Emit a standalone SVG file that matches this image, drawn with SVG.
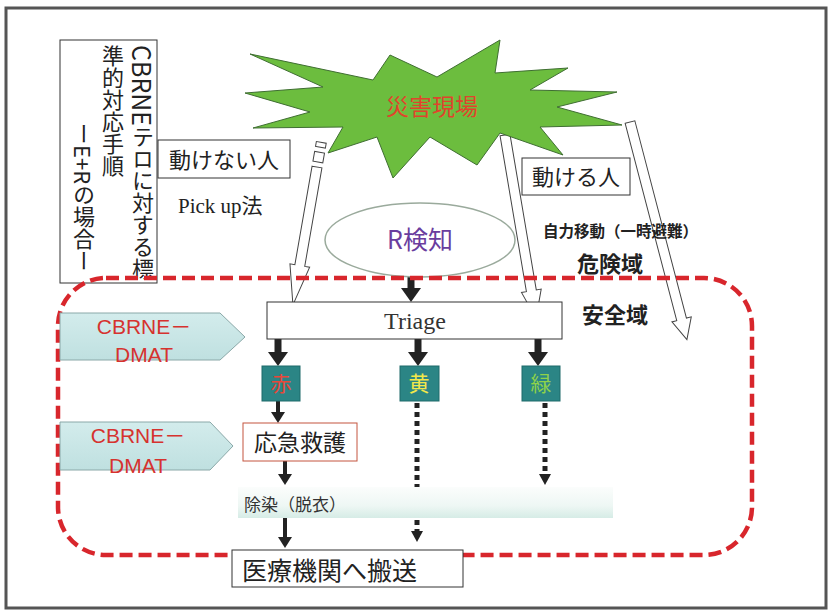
<svg xmlns="http://www.w3.org/2000/svg" width="831" height="610" viewBox="0 0 831 610">
<defs>
<style>
.jp{font-family:"Noto Sans CJK JP","Noto Sans",sans-serif;}
.ser{font-family:"Liberation Serif","Noto Sans CJK JP",serif;}
.box{fill:#fff;stroke:#333;stroke-width:1;}
.hollow{fill:#fff;stroke:#444;stroke-width:1;}
.tag{fill:#2b8585;stroke:#1f6a6a;stroke-width:1;}
.thick{stroke:#222;stroke-width:7;fill:none;}
.thin{stroke:#222;stroke-width:4;fill:none;}
.dot{stroke:#222;stroke-width:5;stroke-dasharray:5 4;fill:none;}
.dmat{fill:url(#dmatg);stroke:#8aa8a8;stroke-width:1;}
.dmt{font-family:"Liberation Sans","Noto Sans CJK JP",sans-serif;font-size:21px;fill:#d6322f;text-anchor:middle;}
</style>
<marker id="ah" viewBox="0 0 14 20" markerWidth="14" markerHeight="20" refX="0" refY="10" orient="auto" markerUnits="userSpaceOnUse"><path d="M0,0 L14,10 L0,20 z" fill="#222"/></marker>
<marker id="ahs" viewBox="0 0 11 14" markerWidth="11" markerHeight="14" refX="0" refY="7" orient="auto" markerUnits="userSpaceOnUse"><path d="M0,0 L11,7 L0,14 z" fill="#222"/></marker>
<linearGradient id="dmatg" x1="0" y1="0" x2="0" y2="1"><stop offset="0" stop-color="#d3ecec"/><stop offset="1" stop-color="#bfe0e0"/></linearGradient>
<linearGradient id="bandg" x1="0" y1="0" x2="0" y2="1"><stop offset="0" stop-color="#fbfdfc"/><stop offset="0.6" stop-color="#eef7f4"/><stop offset="1" stop-color="#d6ece6"/></linearGradient>
</defs>
<rect x="0" y="0" width="831" height="610" fill="#fff"/>
<rect id="frame" x="6" y="8" width="820" height="600" fill="none" stroke="#555" stroke-width="3"/>

<g id="connectors">
<g transform="translate(317,167) rotate(9.9)" class="hollow">
<rect x="-5" y="-25" width="10" height="5"/>
<rect x="-5" y="-15" width="10" height="10"/>
<polygon points="-5,0 5,0 5,100 10,100 0,140 -10,100 -5,100"/>
</g>
<polygon class="hollow" transform="translate(505,135) rotate(-9.6)" points="-5,0 5,0 5,158 10,158 0,186 -10,158 -5,158"/>
<polygon class="hollow" transform="translate(630,122) rotate(-14.65)" points="-5,0 5,0 5,204 10,204 0,225 -10,204 -5,204"/>
<line class="thick" x1="411" y1="277" x2="411" y2="288" marker-end="url(#ah)"/>
<line class="thick" x1="278" y1="339" x2="278" y2="352" marker-end="url(#ah)"/>
<line class="thick" x1="418" y1="339" x2="418" y2="352" marker-end="url(#ah)"/>
<line class="thick" x1="538" y1="339" x2="538" y2="352" marker-end="url(#ah)"/>
<line class="thin" x1="278" y1="401" x2="278" y2="412" marker-end="url(#ahs)"/>
<line class="thin" x1="285" y1="461" x2="285" y2="474" marker-end="url(#ahs)"/>
<line class="thin" x1="285" y1="518" x2="285" y2="537" marker-end="url(#ahs)"/>
<line class="dot" x1="417" y1="403" x2="417" y2="531"/>
<path d="M411,531 L423,531 L417,542 z" fill="#222"/>
<line class="dot" x1="545" y1="403" x2="545" y2="474"/>
<path d="M539,474 L551,474 L545,485 z" fill="#222"/>
</g>

<g id="title">
<rect x="60" y="40" width="97" height="243" fill="#fff" stroke="#333" stroke-width="1"/>
<text class="jp" x="143" y="45" writing-mode="vertical-rl" font-size="22" fill="#222"><tspan font-size="25">CBRNE</tspan>テロに対する標</text>
<text class="jp" x="113" y="45" writing-mode="vertical-rl" font-size="22" fill="#222">準的対応手順</text>
<text class="jp" x="84" y="123" writing-mode="vertical-rl" font-size="22" fill="#222">ーE+Rの場合ー</text>
</g>

<g id="disaster">
<polygon points="250,54 373,80 390,55 437,77 500,40 495,73 568,68 530,90 617,92 557,107 622,125 540,127 563,155 500,133 477,165 430,137 393,178 377,137 328,153 343,127 253,128 310,112 245,93 323,87" fill="#6cbd3e" stroke="#3f6e32" stroke-width="1"/>
<text class="jp" x="432" y="115" font-size="23" fill="#e0442c" text-anchor="middle">災害現場</text>
</g>

<g id="immobile">
<rect class="box" x="158" y="140" width="132" height="38"/>
<text class="jp" x="224" y="168" font-size="22" fill="#222" text-anchor="middle">動けない人</text>
</g>
<g id="pickup"><text class="ser" x="178" y="213" font-size="21" fill="#222">Pick up法</text></g>

<g id="mobile">
<rect class="box" x="522" y="158" width="108" height="37"/>
<text class="jp" x="576" y="185" font-size="22" fill="#222" text-anchor="middle">動ける人</text>
</g>
<g id="selfmove"><text class="jp" x="543" y="237" font-size="15.5" font-weight="bold" fill="#222">自力移動（一時避難）</text></g>
<g id="danger"><text class="jp" x="577" y="272" font-size="22" font-weight="bold" fill="#222">危険域</text></g>
<g id="safe"><text class="jp" x="582" y="323" font-size="22" font-weight="bold" fill="#222">安全域</text></g>

<g id="rdetect">
<ellipse cx="420" cy="240" rx="95" ry="37" fill="#fff" stroke="#9aaa9c" stroke-width="1.5"/>
<text class="jp" x="420" y="249" font-size="25" fill="#6a3d9e" text-anchor="middle">R検知</text>
</g>

<g id="zone">
<rect x="58" y="278" width="694" height="277" rx="48" ry="48" fill="none" stroke="#d8262c" stroke-width="4.5" stroke-dasharray="13 6"/>
</g>

<g id="triage">
<rect class="box" x="267" y="302" width="295" height="37"/>
<text class="ser" x="415" y="329" font-size="24" fill="#333" text-anchor="middle">Triage</text>
</g>

<g id="dmat1">
<polygon class="dmat" points="60,313 220,313 245,337 220,360 60,360"/>
<text class="dmt" x="144" y="334">CBRNE－</text>
<text class="dmt" x="144" y="362">DMAT</text>
</g>
<g id="dmat2">
<polygon class="dmat" points="60,422 210,422 233,446 210,470 60,470"/>
<text class="dmt" x="138" y="443">CBRNE－</text>
<text class="dmt" x="138" y="473">DMAT</text>
</g>

<g id="red">
<rect class="tag" x="262" y="366" width="38" height="35"/>
<text class="jp" x="281" y="391" font-size="21" fill="#e8483a" text-anchor="middle">赤</text>
</g>
<g id="yellow">
<rect class="tag" x="400" y="366" width="39" height="35"/>
<text class="jp" x="419" y="391" font-size="21" fill="#f2e84a" text-anchor="middle">黄</text>
</g>
<g id="green">
<rect class="tag" x="522" y="366" width="38" height="35"/>
<text class="jp" x="541" y="391" font-size="21" fill="#8ed24a" text-anchor="middle">緑</text>
</g>

<g id="firstaid">
<rect x="243" y="423" width="114" height="38" fill="#fff" stroke="#c4553f" stroke-width="1"/>
<text class="jp" x="300" y="451" font-size="23" fill="#222" text-anchor="middle">応急救護</text>
</g>

<g id="decon">
<rect x="238" y="487" width="375" height="31" fill="url(#bandg)"/>
<text class="jp" x="244" y="511" font-size="17" fill="#333">除染（脱衣）</text>
</g>

<g id="transport">
<rect class="box" x="232" y="550" width="231" height="37"/>
<text class="jp" x="242" y="580" font-size="25" fill="#222">医療機関へ搬送</text>
</g>
</svg>
